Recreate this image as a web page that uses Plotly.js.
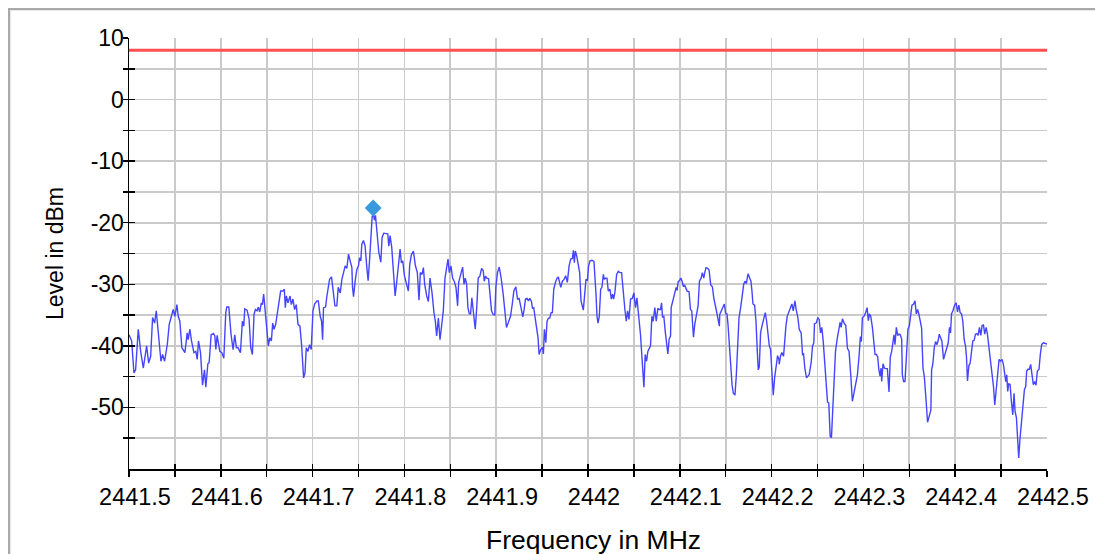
<!DOCTYPE html>
<html>
<head>
<meta charset="utf-8">
<script src="https://cdn.plot.ly/plotly-3.0.1.min.js"></script>
<style>
  html, body { margin: 0; padding: 0; background: #fff; overflow: hidden; }
  #wrap { position: relative; width: 1095px; height: 554px; }
  #chart { position: absolute; left: 0; top: 0; width: 1095px; height: 554px; }
  #frame { position: absolute; left: 8px; top: 8px; width: 1200px; height: 700px;
           border-left: 2px solid #a9a9a9; border-top: 2px solid #a9a9a9;
           box-shadow: inset 1px 1px 1px #e6e6e6; pointer-events: none; }
</style>
</head>
<body>
<div id="wrap"><div id="chart"></div><div id="frame"></div></div>
<script>
// ---- data ----
const freqMHz = [
2441.5000,2441.5029,2441.5054,2441.5072,2441.5101,2441.5127,2441.5156,2441.5192,2441.5214,2441.5236,
2441.5257,2441.5279,2441.5297,2441.5319,2441.5348,2441.5366,2441.5388,2441.5417,2441.5438,2441.5482,
2441.5500,2441.5522,2441.5536,2441.5554,2441.5576,2441.5609,2441.5634,2441.5645,2441.5663,2441.5681,
2441.5707,2441.5728,2441.5743,2441.5757,2441.5779,2441.5801,2441.5822,2441.5837,2441.5859,2441.5873,
2441.5895,2441.5920,2441.5935,2441.5946,2441.5960,2441.5989,2441.6011,2441.6033,2441.6054,2441.6065,
2441.6087,2441.6112,2441.6134,2441.6152,2441.6170,2441.6188,2441.6214,2441.6235,2441.6250,2441.6261,
2441.6286,2441.6308,2441.6326,2441.6344,2441.6362,2441.6377,2441.6395,2441.6409,2441.6424,2441.6442,
2441.6453,2441.6467,2441.6482,2441.6500,2441.6518,2441.6533,2441.6551,2441.6565,2441.6580,2441.6598,
2441.6623,2441.6652,2441.6677,2441.6692,2441.6703,2441.6714,2441.6732,2441.6754,2441.6768,2441.6786,
2441.6804,2441.6822,2441.6841,2441.6862,2441.6880,2441.6902,2441.6917,2441.6931,2441.6949,2441.6967,
2441.6985,2441.7004,2441.7022,2441.7047,2441.7062,2441.7083,2441.7098,2441.7109,2441.7119,2441.7141,
2441.7156,2441.7167,2441.7185,2441.7206,2441.7221,2441.7243,2441.7264,2441.7279,
2441.7301,2441.7319,2441.7337,2441.7355,2441.7373,2441.7391,2441.7409,2441.7428,2441.7435,2441.7446,
2441.7464,2441.7482,2441.7500,2441.7511,2441.7525,2441.7536,2441.7554,2441.7572,2441.7591,2441.7605,
2441.7620,2441.7634,2441.7649,2441.7663,2441.7674,2441.7685,2441.7699,2441.7721,2441.7743,2441.7757,
2441.7775,2441.7801,2441.7819,2441.7830,2441.7844,2441.7862,2441.7880,2441.7899,2441.7917,2441.7938,
2441.7953,2441.7967,2441.7982,2441.8000,2441.8018,2441.8043,2441.8058,2441.8076,2441.8098,2441.8120,
2441.8141,2441.8159,2441.8174,2441.8192,2441.8207,2441.8221,2441.8243,2441.8261,2441.8279,2441.8301,
2441.8322,2441.8337,2441.8351,2441.8370,2441.8388,2441.8406,2441.8424,2441.8442,2441.8460,2441.8475,
2441.8489,2441.8507,2441.8525,2441.8543,2441.8562,2441.8580,2441.8591,2441.8612,2441.8634,2441.8649,
2441.8663,2441.8678,2441.8692,2441.8707,2441.8721,2441.8735,2441.8750,2441.8772,2441.8790,2441.8804,
2441.8822,2441.8841,2441.8859,2441.8870,2441.8884,2441.8899,2441.8917,2441.8931,2441.8949,2441.8967,
2441.8985,2441.8996,2441.9014,2441.9033,2441.9054,2441.9076,2441.9094,2441.9112,2441.9130,2441.9156,
2441.9177,2441.9192,2441.9214,2441.9232,2441.9250,2441.9268,2441.9290,2441.9304,2441.9319,2441.9337,
2441.9351,2441.9366,2441.9384,2441.9395,2441.9409,2441.9424,2441.9438,2441.9456,2441.9467,2441.9485,
2441.9504,2441.9514,2441.9525,2441.9540,2441.9554,2441.9569,2441.9583,2441.9598,2441.9612,2441.9627,
2441.9645,2441.9663,2441.9677,
2441.9703,2441.9721,2441.9739,2441.9757,2441.9775,2441.9794,2441.9812,2441.9830,2441.9841,2441.9851,
2441.9862,2441.9877,2441.9895,2441.9909,2441.9924,2441.9935,2441.9949,2441.9964,2441.9978,2441.9993,
2442.0007,2442.0022,2442.0043,2442.0065,2442.0076,2442.0087,2442.0098,2442.0109,2442.0123,2442.0138,
2442.0152,2442.0167,2442.0178,2442.0192,2442.0207,2442.0221,2442.0239,2442.0254,2442.0268,2442.0279,
2442.0293,2442.0312,2442.0330,2442.0348,2442.0366,2442.0384,2442.0402,2442.0417,2442.0431,2442.0446,
2442.0464,2442.0482,2442.0500,2442.0518,2442.0533,2442.0543,2442.0558,2442.0572,2442.0587,2442.0598,
2442.0609,2442.0623,2442.0638,2442.0652,2442.0667,2442.0681,2442.0696,2442.0710,2442.0728,2442.0743,
2442.0761,2442.0775,2442.0790,2442.0801,2442.0812,2442.0826,2442.0841,2442.0855,2442.0870,2442.0884,
2442.0899,2442.0906,2442.0924,2442.0942,2442.0960,2442.0971,2442.0982,2442.0996,2442.1011,2442.1025,
2442.1040,2442.1051,2442.1065,2442.1080,2442.1101,2442.1116,2442.1130,2442.1149,2442.1163,2442.1181,
2442.1199,2442.1214,2442.1232,2442.1246,2442.1261,2442.1272,2442.1286,2442.1304,2442.1319,2442.1337,
2442.1355,2442.1370,2442.1384,2442.1399,2442.1413,2442.1431,2442.1435,2442.1453,2442.1471,2442.1485,
2442.1500,2442.1514,2442.1525,2442.1540,2442.1554,2442.1569,2442.1583,2442.1601,2442.1616,2442.1630,
2442.1645,2442.1663,2442.1681,2442.1696,2442.1710,2442.1725,2442.1743,2442.1757,2442.1775,2442.1786,
2442.1797,2442.1815,2442.1830,2442.1844,2442.1855,2442.1866,2442.1880,2442.1895,2442.1913,2442.1931,
2442.1946,2442.1960,2442.1975,2442.1989,2442.2004,2442.2018,2442.2033,2442.2051,2442.2065,2442.2080,
2442.2083,2442.2098,2442.2112,2442.2130,2442.2141,2442.2156,2442.2170,2442.2188,2442.2207,2442.2221,
2442.2236,2442.2254,2442.2268,2442.2286,2442.2301,2442.2322,2442.2337,2442.2348,2442.2362,2442.2380,
2442.2409,2442.2431,2442.2446,2442.2460,2442.2467,2442.2486,2442.2504,2442.2518,2442.2533,2442.2547,
2442.2562,2442.2580,2442.2594,2442.2609,2442.2623,2442.2638,2442.2652,2442.2667,2442.2678,2442.2696,
2442.2714,2442.2732,2442.2746,2442.2757,2442.2772,2442.2790,2442.2808,2442.2826,2442.2844,2442.2862,
2442.2880,2442.2899,2442.2917,2442.2935,2442.2953,2442.2967,2442.2978,2442.2989,2442.3007,2442.3025,
2442.3040,2442.3054,2442.3065,2442.3080,2442.3098,2442.3112,2442.3127,2442.3141,2442.3156,2442.3167,
2442.3181,2442.3192,2442.3199,2442.3214,2442.3228,2442.3243,2442.3261,2442.3279,2442.3293,2442.3308,
2442.3322,2442.3333,2442.3344,2442.3359,2442.3373,2442.3388,2442.3402,2442.3417,2442.3424,2442.3438,
2442.3453,2442.3471,2442.3485,2442.3500,2442.3514,2442.3529,2442.3547,2442.3562,2442.3576,2442.3591,
2442.3605,2442.3619,2442.3634,2442.3649,2442.3663,2442.3681,2442.3699,2442.3721,2442.3735,2442.3743,
2442.3757,2442.3772,2442.3786,2442.3801,2442.3815,2442.3826,2442.3841,2442.3855,2442.3873,2442.3888,
2442.3906,2442.3924,2442.3938,2442.3949,2442.3960,2442.3975,2442.3993,2442.4011,2442.4025,2442.4040,
2442.4054,2442.4069,2442.4083,2442.4098,2442.4112,2442.4123,2442.4134,2442.4149,2442.4163,2442.4177,
2442.4192,2442.4206,2442.4221,2442.4235,2442.4250,2442.4264,2442.4279,2442.4293,2442.4308,2442.4322,
2442.4337,2442.4351,2442.4366,2442.4384,2442.4402,2442.4417,2442.4431,2442.4449,2442.4464,2442.4478,
2442.4493,2442.4511,2442.4525,2442.4540,2442.4551,2442.4562,2442.4572,2442.4583,2442.4598,2442.4612,
2442.4627,2442.4641,2442.4652,2442.4667,2442.4677,2442.4692,2442.4706,2442.4721,2442.4739,2442.4754,
2442.4768,2442.4779,2442.4793,2442.4808,2442.4822,2442.4837,2442.4851,2442.4866,2442.4880,2442.4895,
2442.4913,2442.4927,2442.4942,2442.4960,2442.4985,2442.5000
];
const levelDbm = [
-38.2,-39.2,-44.4,-43.9,-37.3,-40.9,-43.6,-40.0,-42.8,-41.7,
-35.4,-36.3,-34.3,-38.2,-42.5,-41.4,-42.5,-39.8,-36.5,-34.1,
-35.2,-33.3,-35.2,-36.0,-40.3,-41.1,-37.9,-39.0,-37.3,-39.2,
-41.1,-40.9,-42.2,-39.2,-41.1,-46.4,-43.9,-46.7,-42.9,-42.7,
-38.2,-38.0,-38.4,-40.6,-38.3,-40.9,-41.1,-42.0,-34.6,-33.7,
-33.7,-38.2,-40.6,-38.2,-40.3,-40.3,-41.1,-36.0,-36.8,-34.0,
-34.2,-35.6,-40.3,-41.4,-34.9,-34.1,-34.3,-33.7,-34.5,-33.0,
-33.3,-31.6,-33.8,-36.8,-40.0,-38.7,-39.2,-36.3,-37.3,-36.5,
-33.8,-31.1,-31.1,-30.8,-33.8,-31.9,-33.0,-31.9,-33.3,-32.4,
-34.1,-33.3,-36.5,-36.8,-39.8,-45.2,-44.4,-40.3,-40.9,-39.8,
-40.6,-34.3,-33.2,-32.7,-32.7,-35.2,-36.0,-39.0,-33.8,-33.7,
-31.9,-30.5,-29.2,-28.8,-30.5,-33.5,-33.5,-30.5,
-31.4,-29.2,-28.1,-27.0,-27.4,-25.1,-26.2,-27.3,-30.5,-32.0,
-29.4,-27.6,-27.0,-25.7,-26.2,-23.5,-22.9,-23.8,-27.3,-29.4,
-26.2,-22.1,-19.0,-18.6,-19.6,-18.8,-21.3,-24.8,-26.4,-22.4,
-21.7,-21.7,-21.8,-23.8,-22.1,-24.0,-27.8,-31.9,-29.5,-26.5,
-24.3,-26.5,-26.2,-28.6,-29.5,-31.1,-26.8,-25.2,-24.6,-27.0,
-28.1,-32.6,-28.1,-28.4,-27.3,-30.0,-31.9,-32.8,-29.0,-31.4,
-34.6,-36.0,-38.4,-35.5,-39.0,-36.8,-34.3,-29.0,-27.6,-25.9,
-28.1,-27.0,-29.0,-29.5,-30.5,-33.5,-29.7,-28.4,-27.2,-30.0,
-29.0,-30.0,-33.8,-34.8,-34.8,-32.2,-34.6,-37.3,-33.3,-29.0,
-28.7,-27.4,-27.8,-29.5,-28.7,-29.0,-29.1,-31.9,-34.3,-34.9,
-35.0,-30.5,-28.1,-27.2,-29.0,-31.6,-34.6,-37.0,-36.3,-35.2,
-33.0,-31.1,-30.4,-32.4,-32.3,-33.5,-35.3,-34.1,-32.4,-32.3,
-32.7,-32.3,-32.8,-33.9,-33.8,-35.4,-37.0,-38.7,-41.4,-40.6,
-40.2,-41.3,-37.3,-39.5,-36.0,-35.5,-35.5,-34.6,-34.6,-30.8,
-29.7,-29.0,-28.8,
-30.5,-29.5,-29.2,-28.6,-29.7,-27.0,-25.9,-25.8,-24.5,-26.5,
-24.6,-25.4,-26.7,-28.1,-32.7,-33.2,-34.2,-31.6,-29.2,-29.4,
-27.0,-26.2,-26.1,-26.3,-30.5,-31.6,-35.2,-36.3,-35.2,-30.8,
-30.5,-28.4,-29.2,-29.0,-29.0,-31.1,-30.8,-32.4,-31.6,-32.4,
-31.3,-28.4,-27.9,-28.1,-28.1,-31.9,-34.1,-36.0,-34.3,-35.7,
-32.4,-32.3,-31.4,-33.8,-32.2,-33.8,-36.0,-38.2,-41.7,-45.5,
-46.7,-41.4,-42.5,-40.9,-40.3,-40.0,-35.2,-36.0,-33.8,-36.0,
-33.9,-34.1,-34.1,-33.0,-35.3,-35.2,-37.6,-39.2,-41.3,-38.9,
-38.4,-33.8,-32.7,-31.1,-30.5,-31.0,-29.6,-29.4,-29.0,-29.5,
-30.4,-30.1,-30.5,-31.1,-31.2,-34.1,-34.3,-38.6,-36.5,-34.8,
-33.5,-29.5,-29.0,-28.1,-29.0,-28.1,-27.3,-27.4,-27.7,-30.1,
-30.4,-32.2,-33.0,-34.3,-35.4,-36.8,-34.9,-34.3,-33.5,-33.2,
-34.8,-34.8,-36.5,-40.3,-43.0,-46.3,-47.7,-48.0,-44.7,-39.2,
-35.4,-33.8,-31.9,-30.0,-29.5,-29.9,-28.3,-29.0,-29.5,-31.1,
-33.2,-33.4,-36.0,-40.9,-43.9,-43.4,-37.9,-36.8,-35.7,-34.6,
-36.0,-37.9,-40.0,-40.6,-43.6,-48.0,-45.2,-43.3,-41.6,-42.2,
-43.0,-41.6,-41.1,-41.7,-38.7,-36.8,-35.2,-34.5,-33.5,-33.2,
-34.3,-32.7,-34.1,-35.4,-37.3,-37.9,-41.4,-41.3,-43.6,-45.2,
-44.7,-42.7,-40.0,-39.5,-36.4,-36.3,-35.4,-35.7,-37.9,-37.0,
-39.2,-42.5,-45.8,-49.1,-49.3,-54.7,-54.9,-50.1,-44.7,-40.9,
-38.9,-37.0,-36.2,-37.0,-35.6,-36.3,-36.7,-40.4,-40.9,-44.7,
-49.0,-47.5,-45.8,-44.7,-41.6,-38.5,-39.3,-35.4,-35.2,-34.6,
-33.8,-35.9,-34.8,-35.2,-37.0,-39.2,-41.4,-41.4,-41.8,-43.7,
-44.9,-43.6,-45.8,-42.9,-43.6,-43.7,-43.7,-47.5,-41.8,-40.9,
-39.2,-38.2,-39.8,-37.0,-38.3,-38.1,-38.2,-38.9,-44.7,-45.8,
-45.8,-40.3,-37.3,-36.8,-35.2,-33.4,-33.2,-32.7,-34.8,-34.1,
-34.9,-36.3,-37.1,-43.6,-44.9,-48.5,-52.4,-51.2,-50.4,-43.9,
-42.9,-40.3,-39.3,-39.8,-39.1,-38.1,-38.7,-39.2,-42.2,-41.3,
-40.6,-39.5,-37.0,-37.9,-34.8,-34.3,-33.4,-33.0,-34.5,-33.4,
-34.6,-34.8,-36.0,-39.0,-40.0,-41.8,-45.7,-43.2,-42.8,-40.6,
-39.2,-39.1,-38.1,-38.0,-38.3,-37.0,-38.3,-36.7,-36.6,-38.1,
-37.0,-38.1,-40.0,-42.7,-44.7,-46.6,-49.6,-47.1,-44.7,-42.2,
-42.5,-42.2,-43.0,-44.4,-45.8,-44.7,-47.4,-46.1,-46.3,-49.0,
-51.2,-47.7,-50.6,-51.7,-55.0,-58.2,-55.0,-52.3,-49.0,-47.1,
-46.6,-44.1,-43.8,-43.8,-43.0,-44.7,-46.3,-45.8,-46.4,-44.1,
-43.8,-41.4,-39.8,-39.5,-39.7,-39.7
];
const limitFreq = [2441.5, 2442.5];
const limitLevel = [8, 8];
const markerFreq = [2441.766];
const markerLevel = [-17.6];

const xTickVals = [2441.5,2441.55,2441.6,2441.65,2441.7,2441.75,2441.8,2441.85,2441.9,2441.95,
                   2442.0,2442.05,2442.1,2442.15,2442.2,2442.25,2442.3,2442.35,2442.4,2442.45,2442.5];
const xTickText = ["2441.5","","2441.6","","2441.7","","2441.8","","2441.9","",
                   "2442","","2442.1","","2442.2","","2442.3","","2442.4","","2442.5"];
const yTickVals = [10,5,0,-5,-10,-15,-20,-25,-30,-35,-40,-45,-50,-55];
const yTickText = ["10","","0","","-10","","-20","","-30","","-40","","-50",""];

const FONT = 'Liberation Sans, Arial, Helvetica, sans-serif';
const xRange = [2441.5, 2442.5];
const yRange = [-60, 10];

const traces = [
  { type: 'scatter', mode: 'lines', x: freqMHz, y: levelDbm,
    line: { color: '#4545ff', width: 1.4 }, hoverinfo: 'skip' },
  { type: 'scatter', mode: 'lines', x: limitFreq, y: limitLevel, xaxis: 'x2', yaxis: 'y2',
    line: { color: '#ff4f4f', width: 3 }, hoverinfo: 'skip' },
  { type: 'scatter', mode: 'markers', x: markerFreq, y: markerLevel, xaxis: 'x2', yaxis: 'y2',
    marker: { symbol: 'diamond', size: 13, color: '#3a98dc', line: { width: 0 } }, hoverinfo: 'skip' }
];

const baseX = {
  range: xRange, tickmode: 'array', tickvals: xTickVals,
  zeroline: false, fixedrange: true
};
const baseY = {
  range: yRange, tickmode: 'array', tickvals: yTickVals,
  zeroline: false, fixedrange: true
};

const layout = {
  width: 1095, height: 554,
  margin: { l: 129, r: 48, t: 38, b: 85, pad: 0 },
  paper_bgcolor: '#ffffff', plot_bgcolor: '#ffffff',
  font: { family: FONT, size: 23, color: '#000' },
  showlegend: false,
  xaxis: Object.assign({}, baseX, {
    ticktext: xTickText, showgrid: true, gridcolor: '#cacaca', gridwidth: 1.6,
    showline: true, linecolor: '#000', linewidth: 1.5,
    ticks: 'outside', ticklen: 6, tickwidth: 1.5, tickcolor: '#000',
    tickfont: { family: FONT, size: 23.5, color: '#000' },
    ticklabelshift: 6,
    title: { text: '' },
    automargin: false
  }),
  yaxis: Object.assign({}, baseY, {
    ticktext: yTickText, showgrid: true, gridcolor: '#cacaca', gridwidth: 1.6,
    showline: true, linecolor: '#000', linewidth: 1.5,
    ticks: 'outside', ticklen: 5, tickwidth: 1.5, tickcolor: '#000',
    tickfont: { family: FONT, size: 23, color: '#000' },
    ticklabelstandoff: -6,
    title: { text: 'Level in dBm', font: { family: FONT, size: 23, color: '#000' }, standoff: 20 },
    automargin: false
  }),
  xaxis2: Object.assign({}, baseX, {
    overlaying: 'x', anchor: 'y2', side: 'bottom',
    showgrid: false, showline: false, showticklabels: false,
    ticks: 'inside', ticklen: 5, tickwidth: 1.5, tickcolor: '#000'
  }),
  yaxis2: Object.assign({}, baseY, {
    overlaying: 'y', anchor: 'x2', side: 'left',
    showgrid: false, showline: false, showticklabels: false,
    ticks: 'inside', ticklen: 6, tickwidth: 1.5, tickcolor: '#000'
  }),
  annotations: [
    { text: 'Frequency in MHz', xref: 'paper', yref: 'paper',
      x: 0.5059, y: -0.1643, xanchor: 'center', yanchor: 'middle', showarrow: false,
      font: { family: FONT, size: 26.5, color: '#000' } }
  ]
};

Plotly.newPlot('chart', traces, layout, { staticPlot: true, displayModeBar: false });
</script>
</body>
</html>
